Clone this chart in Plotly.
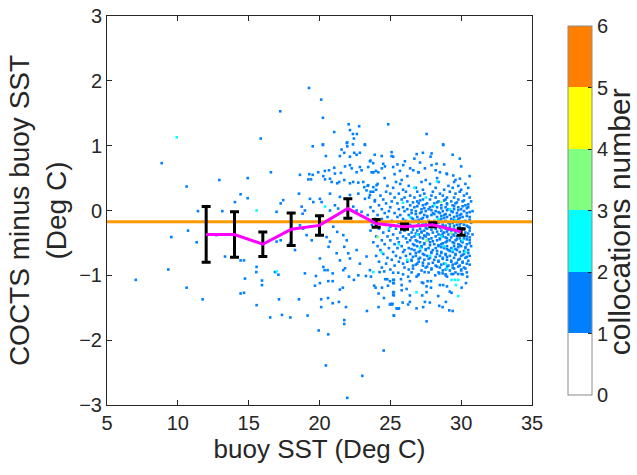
import plotly.graph_objects as go

# ---------------- data ----------------
# scatter cells with 1 collocation (buoy SST, COCTS - buoy), sparse part
x_c1 = [8.86, 10.62, 12.93, 14.93, 14.43, 14.93, 14.03, 11.42, 13.14, 10.72, 9.54, 11.33, 12.71, 13.33, 14.43, 14.67, 9.33,
        7.03, 10.62, 11.75, 14.74, 14.43, 14.67,
        19.26, 20.12, 17.23, 20.24, 22.06, 22.8, 24.85, 22.15, 21.04, 22.36, 22.64, 15.85, 22.43, 21.96, 20.24, 22.36, 23.2,
        27.56, 28.73,
        15.54, 17.1, 18.97, 19.75, 20.36, 20.57, 20.93, 21.68, 15.94, 15.94, 22.08, 22.74, 23.28, 23.63, 24.24, 24.57, 25.2, 25.56,
        20.62, 20.93, 20.03, 19.68, 21.65, 22.43, 21.44, 23.86, 23.96, 24.41, 24.83, 24.64, 24.78, 24.97, 24.17, 25.25, 25.25,
        25.25, 25.25, 24.55, 17.14, 18.55, 20.12, 20.6, 20.93, 21.37, 15.56, 20.12, 21.87, 23.35, 24.17, 24.97, 25.11, 25.44,
        25.6, 25.25, 17.35, 16.52, 17.94, 19.16, 21.75, 21.75, 19.94, 20.62, 24.53, 20.45, 23.02, 21.96,
        25.2, 25.2, 25.75, 25.8, 26.26, 26.38, 26.85, 26.95, 27.42, 27.23, 27.32, 27.63, 27.87, 28.17, 28.45, 28.69, 28.92,
        29.0, 29.32, 29.44, 29.79, 30.03, 30.43, 28.5, 28.73, 29.0, 30.03, 30.34, 25.2, 25.2, 25.8, 26.15, 27.56, 27.56, 27.87,
        26.38, 27.25, 28.38, 29.2, 29.32, 25.02, 25.16, 25.87, 26.26, 26.38, 26.85, 27.32, 27.44, 27.79, 28.45, 28.69, 28.92,
        29.16, 29.4, 25.49, 25.6, 25.25, 27.56,
        19.52, 20.24, 21.92, 21.96, 23.21, 20.45, 21.44, 21.56, 21.75, 22.45, 22.62, 22.85, 22.15, 23.56, 23.79, 16.57, 18.62,
        19.28, 19.52, 19.91, 20.38, 20.67, 21.04, 21.09, 21.51, 21.8, 22.15, 22.27, 22.62, 22.85, 22.97, 23.44, 23.68, 23.98,
        19.21, 19.4, 20.27, 20.39, 20.74, 20.86, 21.25, 21.39, 21.75, 22.15, 22.38, 22.74, 23.09, 23.16, 23.44, 23.8, 24.03,
        18.55, 17.44, 17.26, 19.33, 19.56, 20.03, 20.15, 18.74, 18.97, 18.81, 16.97, 20.74, 21.09, 21.32, 22.38, 22.62, 22.97,
        23.21, 23.56, 23.91, 23.32, 23.61, 22.74, 22.15, 21.44, 20.74,
        16.97, 17.26, 18.62, 18.85, 19.09, 19.33, 19.45, 20.5, 20.74, 20.64, 20.97, 21.25, 21.68, 21.92, 21.75, 22.03,
        15.56, 16.86, 17.91, 18.27, 20.03, 20.27, 21.21, 21.44, 21.8, 22.15, 22.62, 22.85, 23.32, 23.56,
        28.73, 24.39, 25.09, 25.09, 26.86, 27.91, 27.84, 26.03, 25.91, 27.91, 28.26, 24.5, 24.62, 24.15, 23.79, 25.2, 25.68,
        26.62, 26.97, 27.44, 28.5, 28.97, 29.44, 29.91]
y_c1 = [0.73, 0.37, 0.47, 0.50, 0.25, 0.19, 0.13, -0.01, -0.01, -0.31, -0.41, -0.49, -0.38, -0.71, -0.77, -0.77, -0.91,
        -1.07, -1.19, -1.37, -1.05, -1.28, -1.27,
        1.89, 1.71, 1.53, 1.43, 1.33, 1.30, 1.33, 1.24, 1.21, 1.18, 1.18, 1.11, 1.11, 1.05, 1.02, 1.02, 1.02,
        1.18, 1.02,
        -0.95, -0.99, -0.97, -1.01, -0.92, -0.92, -0.97, -0.92, -1.08, -1.15, -1.02, -1.0, -1.01, -1.02, -0.95, -0.94, -0.96, -0.96,
        -1.09, -1.09, -1.12, -1.16, -1.19, -1.07, -1.22, -1.16, -1.19, -1.19, -1.16, -1.06, -1.06, -1.09, -1.28, -1.07, -1.12,
        -1.26, -1.31, -1.35, -1.37, -1.37, -1.37, -1.35, -1.43, -1.41, -1.46, -1.49, -1.49, -1.55, -1.49, -1.45, -1.45, -1.51,
        -1.51, -1.62, -1.61, -1.65, -1.65, -1.62, -1.69, -1.75, -1.85, -1.91, -2.16, -2.39, -2.55, -2.89,
        -1.07, -1.12, -1.06, -1.15, -1.02, -1.09, -1.02, -1.0, -0.95, -1.11, -1.12, -1.09, -1.09, -1.0, -0.97, -0.97, -1.0,
        -1.02, -0.98, -0.98, -0.98, -0.98, -1.02, -1.15, -1.15, -1.17, -1.19, -1.12, -1.26, -1.30, -1.23, -1.21, -1.26, -1.17, -1.19,
        -1.31, -1.31, -1.32, -1.25, -1.27, -1.44, -1.44, -1.42, -1.45, -1.41, -1.51, -1.49, -1.41, -1.42, -1.47, -1.49, -1.41,
        -1.54, -1.55, -1.51, -1.51, -1.62, -1.71,
        0.99, 1.01, 1.04, 0.99, 1.01, 0.84, 0.84, 0.94, 0.89, 0.89, 0.86, 0.89, 0.83, 0.76, 0.73, 0.59, 0.55,
        0.56, 0.55, 0.59, 0.61, 0.62, 0.66, 0.57, 0.58, 0.68, 0.70, 0.65, 0.59, 0.67, 0.62, 0.67, 0.59, 0.61,
        0.48, 0.48, 0.53, 0.48, 0.49, 0.44, 0.42, 0.44, 0.47, 0.42, 0.44, 0.43, 0.44, 0.36, 0.39, 0.36, 0.39,
        0.26, 0.16, 0.11, 0.18, 0.13, 0.18, 0.13, 0.06, 0.0, -0.05, -0.02, 0.0, 0.08, 0.03, 0.06, 0.0, -0.02,
        0.18, 0.24, 0.16, 0.31, 0.29, 0.26, 0.24, 0.21, 0.26,
        -0.48, -0.46, -0.23, -0.28, -0.38, -0.25, -0.46, -0.41, -0.48, -0.56, -0.25, -0.33, -0.38, -0.46, -0.56, -0.66,
        -0.87, -0.95, -0.51, -0.61, -0.74, -0.87, -0.66, -0.77, -0.89, -0.74, -0.61, -0.82, -0.71, -0.92,
        1.01, 0.84, 0.90, 0.84, 0.87, 0.88, 0.83, 0.76, 0.70, 0.70, 0.72, 0.72, 0.68, 0.59, 0.59, 0.67, 0.61,
        0.62, 0.59, 0.65, 0.59, 0.57, 0.54, 0.49]

# warm-water cluster (1 collocation per cell), read row by row: row level and SSTs
dense_row_y = [0.89, 0.86, 0.83, 0.80, 0.77, 0.74, 0.71, 0.68, 0.65, 0.62, 0.59, 0.56, 0.53, 0.50, 0.47, 0.44,
               0.41, 0.38, 0.35, 0.32, 0.29, 0.26, 0.23, 0.20, 0.17, 0.14, 0.11, 0.08, 0.05, 0.02, -0.01, -0.04,
               -0.07, -0.10, -0.13, -0.16, -0.19, -0.22, -0.25, -0.28, -0.31, -0.34, -0.37, -0.40, -0.43, -0.46,
               -0.49, -0.52, -0.55, -0.58, -0.61, -0.64, -0.67, -0.70, -0.73, -0.76, -0.79, -0.82, -0.85, -0.88, -0.91]
dense_row_x = [
    [27.3], [23.9, 29.4], [25.2], [26.7, 29.9], [23.6], [27.1], [25.5, 28.8], [30.0], [24.4, 26.4], [28.2],
    [23.8, 27.0], [25.3, 29.0], [26.2, 30.6], [24.6, 28.3], [25.8, 27.5, 29.6],
    [25.4, 27.2, 28.4, 29.5], [24.1, 25.7, 27.8, 30.3],
    [23.4, 24.8, 26.3, 29.1, 29.8], [25.2, 26.8, 28.2, 29.4, 30.5], [24.0, 25.9, 27.3, 28.8, 30.0],
    [23.8, 24.7, 26.1, 26.9, 28.0, 29.2, 29.9], [25.0, 25.6, 27.4, 28.5, 29.6, 30.4],
    [24.3, 26.4, 27.1, 27.9, 28.7, 30.2], [23.5, 25.3, 26.0, 26.7, 28.2, 29.0, 29.5, 30.6],
    [24.5, 25.8, 27.3, 27.8, 28.9, 29.8], [23.9, 25.1, 26.2, 26.9, 28.4, 29.3, 30.1, 30.7],
    [24.7, 25.5, 27.0, 27.6, 28.1, 29.0, 29.6], [24.2, 26.4, 27.3, 28.6, 29.4, 30.3],
    [23.6, 25.0, 25.9, 26.7, 27.8, 28.3, 28.9, 29.8, 30.5], [24.4, 25.6, 26.2, 27.2, 27.7, 29.1, 29.5, 30.0],
    [23.8, 24.9, 26.0, 26.8, 27.5, 28.2, 28.7, 29.3, 30.2, 30.8], [24.6, 25.3, 26.5, 27.1, 28.0, 28.5, 29.7, 30.4],
    [23.4, 24.1, 25.7, 26.3, 27.4, 27.9, 28.8, 29.2, 29.9], [24.8, 25.5, 26.9, 27.6, 28.3, 29.0, 29.5, 30.1, 30.6],
    [23.9, 24.4, 25.9, 26.6, 27.2, 28.6, 29.3, 29.8], [25.1, 26.1, 26.8, 27.7, 28.1, 28.9, 29.6, 30.3],
    [24.3, 25.6, 27.0, 27.5, 28.4, 29.1, 29.4, 30.0, 30.7], [23.7, 24.7, 26.4, 27.3, 28.0, 28.7, 29.7, 30.2],
    [25.0, 25.8, 26.6, 27.8, 28.5, 29.2, 29.9, 30.5], [24.2, 25.4, 26.2, 27.1, 27.6, 28.2, 28.9, 29.5, 30.1],
    [23.6, 24.9, 26.0, 26.9, 27.4, 28.6, 29.3, 29.8, 30.6], [24.5, 25.7, 26.5, 27.2, 28.0, 28.8, 29.6, 30.3],
    [25.2, 26.3, 27.0, 27.7, 28.4, 29.1, 29.4, 30.0, 30.8], [24.0, 24.8, 25.9, 26.7, 27.5, 28.2, 28.7, 29.7, 30.4],
    [25.5, 26.1, 27.3, 27.9, 28.5, 29.0, 29.9, 30.2], [24.4, 25.0, 26.4, 26.8, 27.6, 28.3, 29.2, 29.6, 30.6],
    [23.8, 25.6, 26.2, 27.1, 27.8, 28.9, 29.4, 30.1], [24.6, 25.3, 26.6, 27.4, 28.1, 28.6, 29.8, 30.4],
    [24.1, 25.8, 26.9, 27.2, 28.4, 29.0, 29.5, 30.0, 30.7], [24.9, 25.5, 26.3, 27.7, 28.2, 28.8, 29.3, 30.3],
    [24.3, 26.0, 26.7, 27.5, 28.0, 29.1, 29.7, 30.5], [25.2, 25.9, 27.0, 27.9, 28.6, 29.4, 29.9],
    [24.5, 26.4, 27.3, 28.3, 28.9, 29.6, 30.2], [24.0, 25.4, 26.1, 26.8, 27.6, 28.5, 29.2, 30.0, 30.6],
    [24.8, 25.7, 27.1, 27.8, 28.7, 29.5, 30.3], [25.1, 26.5, 27.4, 28.1, 29.0, 29.8],
    [24.2, 25.6, 26.2, 27.0, 28.4, 29.3, 30.1], [24.7, 25.9, 26.9, 27.7, 28.8, 29.6, 30.4],
    [25.3, 26.6, 27.3, 28.2, 29.1, 29.9], [24.4, 26.0, 27.5, 28.5, 29.4, 30.2], [25.0, 26.3, 27.9, 28.9, 30.0]]

# densest core of the cluster (interleaved rows)
core_row_y = [0.155, 0.125, 0.095, 0.065, 0.035, 0.005, -0.025, -0.055, -0.085, -0.115, -0.145, -0.175, -0.205,
              -0.235, -0.265, -0.295, -0.325, -0.355, -0.385, -0.415, -0.445, -0.475, -0.505, -0.535, -0.565,
              -0.595, -0.625, -0.655, -0.685, -0.715, -0.745, -0.775, -0.805, -0.835, -0.865, -0.895, -0.925,
              -0.955, -0.985]
core_row_x = [
    [27.1, 28.8, 30.2], [26.6, 28.3, 29.7], [27.5, 29.0, 30.5], [26.9, 28.0, 29.5, 30.1], [27.4, 28.6, 30.4],
    [26.5, 27.9, 29.0, 29.8], [27.2, 28.4, 29.4, 30.6], [26.8, 28.1, 28.9, 30.0], [27.6, 28.6, 29.7, 30.4],
    [26.5, 27.3, 28.8, 29.9], [27.0, 28.4, 29.5, 30.6], [26.7, 27.8, 28.6, 30.1], [27.3, 28.2, 29.2, 29.9],
    [26.9, 28.9, 29.5, 30.4], [27.5, 28.5, 29.8, 30.6], [26.6, 27.9, 29.1, 30.2], [27.2, 28.3, 29.0, 29.9],
    [26.8, 27.6, 28.7, 30.5], [27.4, 28.6, 29.5, 30.2], [26.5, 27.1, 28.9, 29.3, 30.6], [27.7, 28.5, 29.7, 30.4],
    [26.9, 28.0, 29.0, 30.0], [27.4, 28.7, 29.5, 30.6], [26.7, 27.8, 28.4, 29.9], [27.2, 28.6, 29.8, 30.3],
    [26.5, 27.5, 29.0, 29.6], [27.1, 28.3, 29.2, 30.2], [26.8, 27.9, 28.6, 30.5], [27.4, 28.9, 29.6, 30.1],
    [26.6, 28.2, 29.0, 30.4], [27.0, 27.7, 28.7, 29.9], [26.5, 28.4, 29.3, 30.5], [27.3, 28.0, 29.7, 30.1],
    [26.8, 28.6, 29.4, 30.6], [27.6, 28.3, 29.0, 29.8], [26.6, 27.9, 29.5, 30.3], [27.2, 28.7, 29.2, 30.0],
    [26.5, 27.7, 28.4, 29.6, 30.4], [25.9, 27.0, 28.9, 30.1]]

# cells with 2 collocations
x_c2 = [9.92, 16.97, 23.8, 29.32, 29.56, 29.79, 29.63, 26.85, 29.79, 15.56, 20.39,
        27.3, 28.6, 29.4, 26.4, 28.1, 29.8, 27.8, 25.6, 28.9, 30.1, 26.9, 29.2, 27.5, 24.9, 28.4, 29.6, 26.2,
        30.3, 27.1, 28.8, 25.9, 29.0, 24.4, 26.7, 28.3]
y_c2 = [1.13, -0.94, -0.95, -1.07, -1.07, -1.07, -1.15, -1.26, -1.32, 0.0, 0.06,
        -0.22, -0.40, -0.61, -0.10, 0.08, -0.31, -0.70, -0.52, -0.82, -0.46, -0.37, 0.02, 0.20, -0.28, -0.13, -0.15,
        -0.76, -0.64, -0.58, -0.55, 0.12, -0.90, -0.65, 0.35, 0.45]

# cells with 3 collocations
x_c3 = [27.56, 24.1, 28.6, 29.3]
y_c3 = [-0.46, -0.41, 0.13, -0.35]

# binned statistics
bin_sst = [12, 14, 16, 18, 20, 22, 24, 26, 28, 30]
bin_mean = [-0.37, -0.37, -0.52, -0.29, -0.23, 0.03, -0.20, -0.25, -0.22, -0.33]
bin_err = [0.43, 0.35, 0.19, 0.25, 0.15, 0.15, 0.06, 0.04, 0.03, 0.05]
overall_bias = -0.175

cb_ticks = [0, 1, 2, 3, 4, 5, 6]
x_ticks = [5, 10, 15, 20, 25, 30, 35]
y_ticks = [-3, -2, -1, 0, 1, 2, 3]

# ---------------- figure ----------------
all_x1, all_y1 = list(x_c1), list(y_c1)
for rows_y, rows_x in [(dense_row_y, dense_row_x), (core_row_y, core_row_x)]:
    for yv, xs in zip(rows_y, rows_x):
        all_x1.extend(xs)
        all_y1.extend([yv] * len(xs))

cmap = ["#FFFFFF", "#0080FF", "#00FFFF", "#80FF80", "#FFFF00", "#FF8000"]
cscale = []
for i, c in enumerate(cmap):
    cscale.append([i / 6, c])
    cscale.append([(i + 1) / 6, c])

txt = "#262626"
fig = go.Figure()

for xs, ys, col in [(all_x1, all_y1, cmap[1]), (x_c2, y_c2, cmap[2]), (x_c3, y_c3, cmap[3])]:
    fig.add_trace(go.Scatter(x=xs, y=ys, mode="markers",
                             marker=dict(symbol="square", size=2.6, color=col, line=dict(width=0)),
                             showlegend=False, hoverinfo="skip"))

# colorbar carrier
fig.add_trace(go.Scatter(x=[None], y=[None], mode="markers",
                         marker=dict(color=[0], coloraxis="coloraxis", size=1),
                         showlegend=False, hoverinfo="skip"))

fig.add_trace(go.Scatter(x=[5, 35], y=[overall_bias, overall_bias], mode="lines",
                         line=dict(color="#FF9900", width=3), showlegend=False, hoverinfo="skip"))

fig.add_trace(go.Scatter(x=bin_sst, y=bin_mean, mode="markers",
                         marker=dict(size=1, color="rgba(0,0,0,0)"),
                         error_y=dict(type="data", array=bin_err, color="black", thickness=3, width=4.5),
                         showlegend=False, hoverinfo="skip"))
fig.add_trace(go.Scatter(x=bin_sst, y=bin_mean, mode="lines",
                         line=dict(color="#FF00FF", width=3), showlegend=False, hoverinfo="skip"))

axis_common = dict(showline=True, linecolor=txt, linewidth=1, mirror="ticks", ticks="inside",
                   ticklen=5, tickcolor=txt, showgrid=False, zeroline=False,
                   tickfont=dict(size=20, color=txt))

fig.update_layout(
    width=637, height=475,
    margin=dict(l=107, r=105, t=16, b=70, autoexpand=False),
    paper_bgcolor="white", plot_bgcolor="white",
    font=dict(family="Liberation Sans, Arial, sans-serif", color=txt),
    xaxis=dict(range=[5, 35], tickvals=x_ticks,
               title=dict(text="buoy SST (Deg C)", font=dict(size=26, color=txt), standoff=6),
               **axis_common),
    yaxis=dict(range=[-3, 3], tickvals=y_ticks,
               title=dict(text="COCTS minus buoy SST<br>(Deg C)", font=dict(size=28, color=txt), standoff=4),
               **axis_common),
    coloraxis=dict(cmin=0, cmax=6, colorscale=cscale,
                   colorbar=dict(x=1.061, xanchor="left", xref="paper", y=0.5, yanchor="middle", yref="paper",
                                 len=1, lenmode="fraction", thickness=24, thicknessmode="pixels",
                                 outlinewidth=1, outlinecolor="#8c8c8c",
                                 tickvals=cb_ticks, ticks="inside", ticklen=4, tickcolor=txt,
                                 tickfont=dict(size=20, color=txt))),
    annotations=[dict(text="collocations number", textangle=-90, xref="paper", yref="paper",
                      x=(619 - 107) / 425, y=0.47, xanchor="center", yanchor="middle", showarrow=False,
                      font=dict(size=30, color=txt))],
)

fig.write_html("out.html")
